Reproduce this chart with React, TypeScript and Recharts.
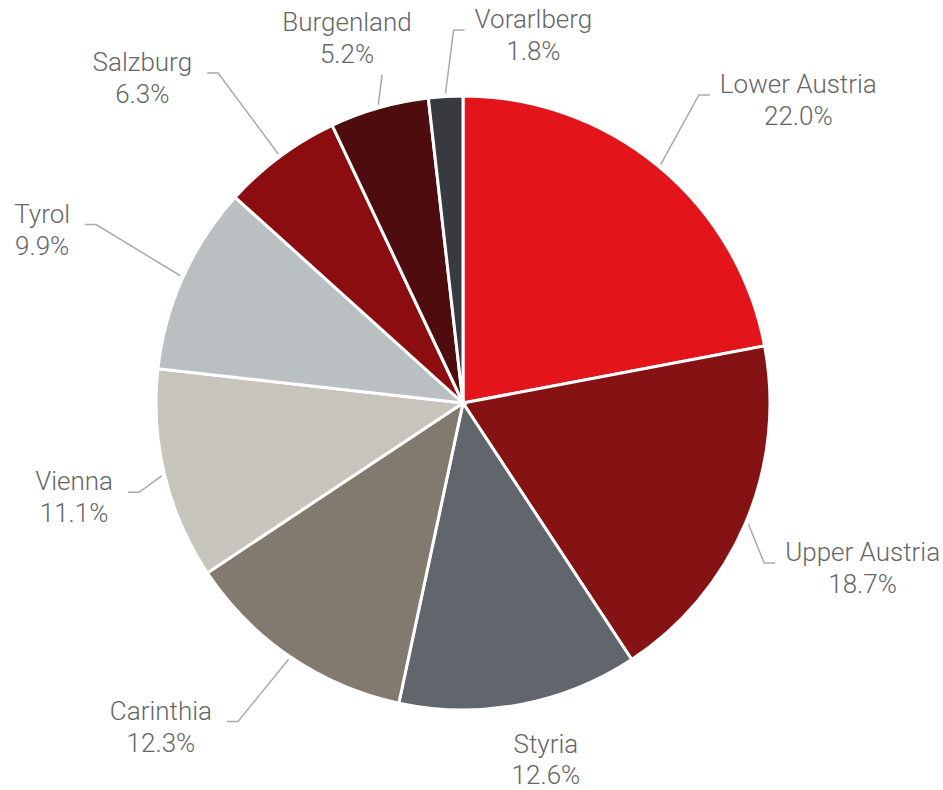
import { PieChart, Pie, Cell } from 'recharts';

const regions = [
  'Lower Austria',
  'Upper Austria',
  'Styria',
  'Carinthia',
  'Vienna',
  'Tyrol',
  'Salzburg',
  'Burgenland',
  'Vorarlberg',
];
const shares = [22.0, 18.7, 12.6, 12.3, 11.1, 9.9, 6.3, 5.2, 1.8];
const sliceColors = [
  '#e3151a',
  '#861313',
  '#61666d',
  '#82796f',
  '#c7c4bc',
  '#babfc1',
  '#8c0d0f',
  '#4f0c0f',
  '#373b40',
];

const data = regions.map((name, i) => ({ name, value: shares[i] }));

// label line: reach beyond the pie edge, small clockwise nudge of the elbow, text side
const labelStyle: Record<string, { reach: number; nudge: number; side: 'left' | 'right' | 'up' | 'down' }> = {
  'Lower Austria': { reach: 81, nudge: -2.2, side: 'right' },
  'Upper Austria': { reach: 34, nudge: 5, side: 'right' },
  Styria: { reach: 45, nudge: 0, side: 'down' },
  Carinthia: { reach: 83, nudge: 1, side: 'left' },
  Vienna: { reach: 29, nudge: -1.8, side: 'left' },
  Tyrol: { reach: 101, nudge: 1.7, side: 'left' },
  Salzburg: { reach: 104, nudge: 0, side: 'left' },
  Burgenland: { reach: 31, nudge: 2, side: 'up' },
  Vorarlberg: { reach: 66, nudge: 1.8, side: 'right' },
};

const R = 307;
const FONT = '300 26px Roboto';
const RAD = Math.PI / 180;

let ctx: CanvasRenderingContext2D | null = null;
const measure = (s: string) => {
  if (!ctx) ctx = document.createElement('canvas').getContext('2d');
  if (!ctx) return s.length * 13;
  ctx.font = FONT;
  return ctx.measureText(s).width;
};

const renderLabel = (props: any) => {
  const { cx, cy, midAngle, name, value } = props;
  const cfg = labelStyle[name] || { reach: 40, nudge: 0, side: 'right' };
  const a0 = -midAngle * RAD;
  const a1 = -(midAngle - cfg.nudge) * RAD;
  const sx = cx + (R + 3) * Math.cos(a0);
  const sy = cy + (R + 3) * Math.sin(a0);
  const ex = cx + (R + cfg.reach) * Math.cos(a1);
  const ey = cy + (R + cfg.reach) * Math.sin(a1);
  const pct = `${value.toFixed(1)}%`;
  const w = Math.max(measure(name), measure(pct));
  const textProps = {
    fill: '#666',
    fontSize: 26,
    fontWeight: 300,
    fontFamily: 'Roboto, sans-serif',
    textAnchor: 'middle' as const,
  };

  if (cfg.side === 'down') {
    const tx = ex + 18;
    return (
      <g>
        <text x={tx} y={ey + 4} {...textProps}>{name}</text>
        <text x={tx} y={ey + 35} {...textProps}>{pct}</text>
      </g>
    );
  }
  if (cfg.side === 'up') {
    const tx = ex - 35;
    return (
      <g>
        <polyline points={`${sx},${sy} ${ex},${ey}`} fill="none" stroke="#aaa" strokeWidth={1.5} />
        <text x={tx} y={ey - 44} {...textProps}>{name}</text>
        <text x={tx} y={ey - 12} {...textProps}>{pct}</text>
      </g>
    );
  }
  const dir = cfg.side === 'right' ? 1 : -1;
  const hx = ex + dir * 11;
  const gap = dir > 0 ? 10 : 15;
  const tx = hx + dir * (gap + w / 2);
  return (
    <g>
      <polyline points={`${sx},${sy} ${ex},${ey} ${hx},${ey}`} fill="none" stroke="#aaa" strokeWidth={1.5} />
      <text x={tx} y={ey - 2} {...textProps}>{name}</text>
      <text x={tx} y={ey + 30} {...textProps}>{pct}</text>
    </g>
  );
};

export default function App() {
  return (
    <div style={{ position: 'absolute', left: 0, top: 0, width: 943, height: 790, background: '#fff' }}>
      <PieChart width={943} height={790} margin={{ top: 0, right: 0, bottom: 0, left: 0 }}>
        <Pie
          data={data}
          dataKey="value"
          nameKey="name"
          cx={463}
          cy={403}
          outerRadius={R}
          startAngle={90}
          endAngle={-270}
          stroke="#fff"
          strokeWidth={3}
          labelLine={false}
          label={renderLabel}
          isAnimationActive={false}
        >
          {data.map((d, i) => (
            <Cell key={d.name} fill={sliceColors[i]} />
          ))}
        </Pie>
      </PieChart>
    </div>
  );
}
